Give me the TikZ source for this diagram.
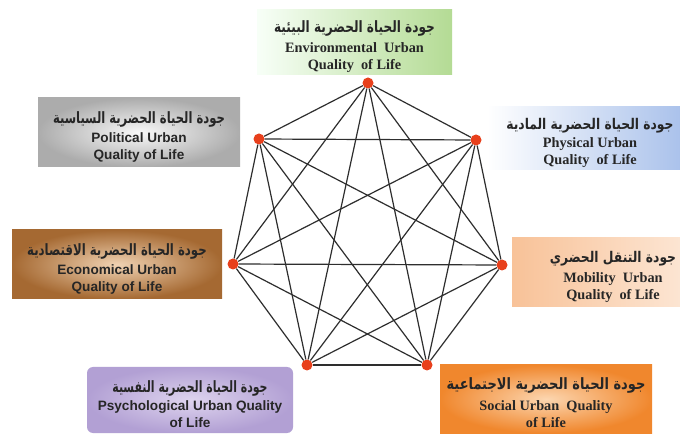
\documentclass[tikz,border=0pt]{standalone}
\usepackage{graphicx}
\usepackage{fontspec}
\setmainfont{Liberation Serif}
\newfontfamily\arabicfont[Script=Arabic]{DejaVu Sans}
\newfontfamily\sansfam{Liberation Sans}
\TeXXeTstate=1
\definecolor{dotred}{HTML}{E8401C}
\definecolor{edgegray}{HTML}{2E2E2E}
\newcommand{\ar}[3]{\scalebox{#1}[1.2]{\arabicfont\bfseries\fontsize{#2}{17}\selectfont #3}}
\newcommand{\se}[1]{{\bfseries\fontsize{14.3}{17}\selectfont #1}}
\newcommand{\sa}[1]{{\sansfam\bfseries\fontsize{13.6}{17}\selectfont #1}}
\tikzset{
  labelbox/.style={inner sep=0pt, draw=none},
  labeltext/.style={inner sep=0pt, align=center, text=black!85, font=\fontsize{13}{17}\selectfont, yshift=-4pt},
  vdot/.style={circle, fill=dotred, inner sep=0pt, minimum size=11pt},
  link/.style={draw=edgegray, line width=1.2pt}
}
\begin{document}
\begin{tikzpicture}[x=1pt,y=-1pt]
\useasboundingbox (0,0) rectangle (680,435);
\clip (0,0) rectangle (680,435);
\fill[white] (0,0) rectangle (680,435);
% boxes
\node[labelbox, minimum width=195pt, minimum height=65pt, left color=white!85!green!20, right color={rgb,255:red,180;green,219;blue,148}] (env) at (354.5,42.5) {};
\node[labelbox, minimum width=206pt, minimum height=63pt, left color=white, right color={rgb,255:red,165;green,190;blue,234}] (phys) at (590,138.5) {};
\node[labelbox, minimum width=202pt, minimum height=69pt, inner color=white!95!gray, outer color=gray!65] (pol) at (139,132.5) {};
\node[labelbox, minimum width=210pt, minimum height=69pt, inner color={rgb,255:red,240;green,210;blue,178}, outer color={rgb,255:red,165;green,105;blue,50}] (eco) at (117,264.5) {};
\node[labelbox, minimum width=202pt, minimum height=69pt, left color={rgb,255:red,248;green,194;blue,152}, right color={rgb,255:red,253;green,236;blue,222}] (mob) at (613,272.5) {};
\node[labelbox, rounded corners=6pt, minimum width=206pt, minimum height=66pt, inner color={rgb,255:red,222;green,212;blue,238}, outer color={rgb,255:red,178;green,160;blue,212}] (psy) at (190,400) {};
\node[labelbox, minimum width=212pt, minimum height=68pt, inner color={rgb,255:red,252;green,214;blue,176}, outer color={rgb,255:red,240;green,135;blue,45}] (soc) at (546,399) {};
% texts
\node[labeltext] (envt) at (env.center)
  {\ar{0.93}{13}{\beginR جودة الحياة الحضرية البيئية\endR}\\[3pt] \se{Environmental\ \ Urban}\\ \se{Quality\ \ of Life}};
\node[labeltext] (physt) at (phys.center)
  {\ar{1}{12.3}{\beginR جودة الحياة الحضرية المادية\endR}\\[1pt] \se{Physical Urban}\\ \se{Quality\ \ of Life}};
\node[labeltext] (polt) at (pol.center)
  {\ar{0.89}{13}{\beginR جودة الحياة الحضرية السياسية\endR}\\[2pt] \sa{Political Urban}\\ \sa{Quality of Life}};
\node[labeltext] (ecot) at (eco.center)
  {\ar{0.9}{13}{\beginR جودة الحياة الحضرية الاقتصادية\endR}\\[2pt] \sa{Economical Urban}\\ \sa{Quality of Life}};
\node[labeltext] (mobt) at (mob.center)
  {\ar{1}{12.3}{\beginR جودة التنقل الحضري\endR}\\[3pt] \se{Mobility\ \ Urban}\\ \se{Quality\ \ of Life}};
\node[labeltext] (psyt) at (psy.center)
  {\ar{0.84}{13}{\beginR جودة الحياة الحضرية النفسية\endR}\\[1pt] \sa{Psychological Urban Quality}\\ \sa{of Life}};
\node[labeltext] (soct) at (soc.center)
  {\ar{1}{13}{\beginR جودة الحياة الحضرية الاجتماعية\endR}\\[4pt] \se{Social Urban\ \ Quality}\\ \se{of Life}};
% vertices
\node[vdot] (v1) at (368,83) {};
\node[vdot] (v2) at (476,140) {};
\node[vdot] (v3) at (502,265) {};
\node[vdot] (v4) at (427,365) {};
\node[vdot] (v5) at (307,365) {};
\node[vdot] (v6) at (233,264) {};
\node[vdot] (v7) at (259,139) {};
% edges (complete graph)
\foreach \a/\b in {v1/v2,v1/v3,v1/v4,v1/v5,v1/v6,v1/v7,v2/v3,v2/v4,v2/v5,v2/v6,v2/v7,v3/v4,v3/v5,v3/v6,v3/v7,v4/v5,v4/v6,v4/v7,v5/v6,v5/v7,v6/v7}
  \draw[link] (\a) -- (\b);
\end{tikzpicture}
\end{document}
